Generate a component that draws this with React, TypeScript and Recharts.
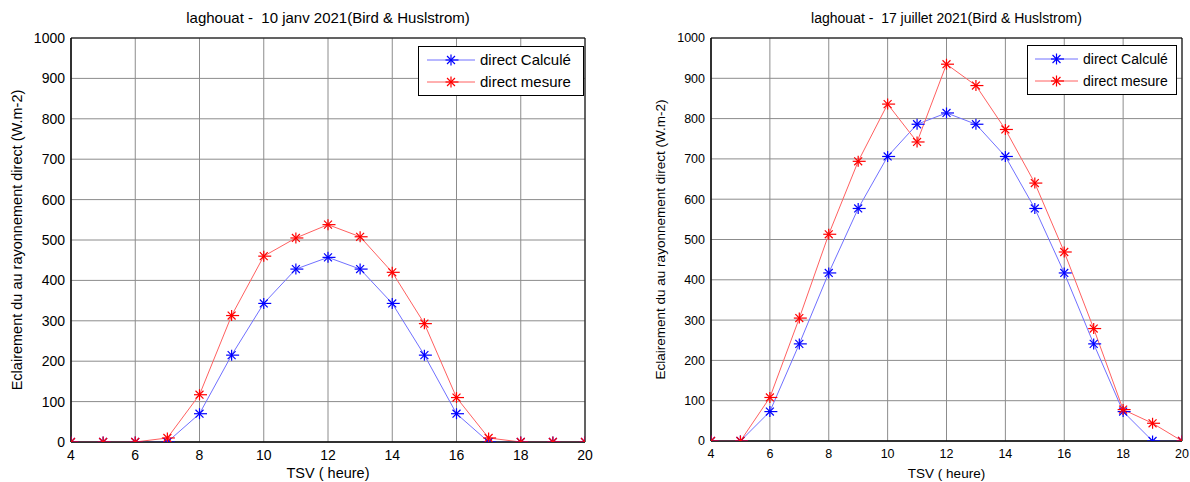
import React from 'react';
import { LineChart, Line, XAxis, YAxis, CartesianGrid, ReferenceArea, Legend } from 'recharts';

const hours = [4, 5, 6, 7, 8, 9, 10, 11, 12, 13, 14, 15, 16, 17, 18, 19, 20];
const janCalc = [0, 0, 0, 0, 70, 215, 343, 428, 457, 428, 343, 215, 70, 0, 0, 0, 0];
const janMes = [0, 0, 0, 10, 117, 313, 460, 505, 538, 508, 420, 293, 110, 10, 0, 0, 0];
const julCalc = [0, 0, 73, 241, 417, 577, 706, 786, 814, 786, 706, 577, 417, 241, 73, 0, 0];
const julMes = [0, 0, 108, 305, 513, 694, 836, 742, 935, 882, 773, 640, 469, 279, 78, 44, 0];
const xTicks = [4, 6, 8, 10, 12, 14, 16, 18, 20];
const yTicks = [0, 100, 200, 300, 400, 500, 600, 700, 800, 900, 1000];
const seriesNames = ['direct Calculé', 'direct mesure'];
const titles = ['laghouat -  10 janv 2021(Bird & Huslstrom)', 'laghouat -  17 juillet 2021(Bird & Huslstrom)'];
const xLabel = 'TSV ( heure)';
const yLabel = 'Eclairement du au rayonnement direct (W.m-2)';

const FONT = '"Liberation Sans", Arial, Helvetica, sans-serif';
const BLUE = '#0000ff';
const RED = '#ff0000';
const BLUE_LINE = '#7070ff';
const RED_LINE = '#ff6060';

function StarShape({ cx, cy, color, r = 5.5 }: { cx: number; cy: number; color: string; r?: number }) {
  if (cx == null || cy == null || isNaN(cx) || isNaN(cy)) return null;
  const d = r * 0.72;
  return (
    <g stroke={color} strokeWidth={1.2} fill="none">
      <line x1={cx - r} y1={cy} x2={cx + r + 2} y2={cy} />
      <line x1={cx} y1={cy - r} x2={cx} y2={cy + r} />
      <line x1={cx - d} y1={cy - d} x2={cx + d} y2={cy + d} />
      <line x1={cx - d} y1={cy + d} x2={cx + d} y2={cy - d} />
    </g>
  );
}

type PanelProps = {
  left: number;
  width: number;
  plotLeft: number;
  plotRight: number;
  plotTop: number;
  plotBottom: number;
  tickFs: number;
  titleFs: number;
  legendFs: number;
  labelFs: number;
  title: string;
  calc: number[];
  mes: number[];
  legend: { x: number; y: number; w: number; h: number; lineX1: number; lineX2: number; textX: number };
  yLabelX: number;
};

function Panel(p: PanelProps) {
  const data = hours.map((h, i) => ({ x: h, calc: p.calc[i], mes: p.mes[i] }));
  const H = 482;
  const lg = p.legend;
  const legendContent = () => (
    <svg width={lg.w} height={lg.h} style={{ display: 'block' }}>
      <rect x={0.5} y={0.5} width={lg.w - 1} height={lg.h - 1} fill="#fff" stroke="#000" strokeWidth={1} />
      <line x1={lg.lineX1} y1={14} x2={lg.lineX2} y2={14} stroke={BLUE_LINE} strokeWidth={1} />
      <StarShape cx={(lg.lineX1 + lg.lineX2) / 2} cy={14} color={BLUE} />
      <text x={lg.textX} y={14} dy="0.36em" fontSize={p.legendFs} fontFamily={FONT} fill="#000">{seriesNames[0]}</text>
      <line x1={lg.lineX1} y1={36} x2={lg.lineX2} y2={36} stroke={RED_LINE} strokeWidth={1} />
      <StarShape cx={(lg.lineX1 + lg.lineX2) / 2} cy={36} color={RED} />
      <text x={lg.textX} y={36} dy="0.36em" fontSize={p.legendFs} fontFamily={FONT} fill="#000">{seriesNames[1]}</text>
    </svg>
  );
  const plotCx = (p.plotLeft + p.plotRight) / 2;
  const plotCy = (p.plotTop + p.plotBottom) / 2;
  return (
    <div style={{ position: 'absolute', left: p.left, top: 0, width: p.width, height: H }}>
      <LineChart
        width={p.width}
        height={H}
        data={data}
        margin={{ top: p.plotTop, right: p.width - p.plotRight, bottom: 0, left: 0 }}
        style={{ fontFamily: FONT }}
      >
        <CartesianGrid stroke="#8c8c8c" strokeWidth={1} />
        <XAxis
          dataKey="x"
          type="number"
          domain={[4, 20]}
          ticks={xTicks}
          allowDataOverflow
          height={H - p.plotBottom}
          tickLine={false}
          tickSize={5}
          tickMargin={3}
          axisLine={{ stroke: '#000' }}
          tick={{ fill: '#000', fontSize: p.tickFs, fontFamily: FONT }}
          interval={0}
        />
        <YAxis
          type="number"
          domain={[0, 1000]}
          ticks={yTicks}
          allowDataOverflow
          width={p.plotLeft}
          tickLine={false}
          tickSize={5}
          tickMargin={1}
          axisLine={{ stroke: '#000' }}
          tick={{ fill: '#000', fontSize: p.tickFs, fontFamily: FONT }}
          interval={0}
        />
        <ReferenceArea x1={4} x2={20} y1={0} y2={1000} fill="none" fillOpacity={0} stroke="#000" strokeWidth={1} />
        <Line
          type="linear"
          dataKey="calc"
          stroke={BLUE_LINE}
          strokeWidth={1}
          isAnimationActive={false}
          dot={(d: any) => <StarShape key={'c' + d.index} cx={d.cx} cy={d.cy} color={BLUE} />}
          activeDot={false}
        />
        <Line
          type="linear"
          dataKey="mes"
          stroke={RED_LINE}
          strokeWidth={1}
          isAnimationActive={false}
          dot={(d: any) => <StarShape key={'m' + d.index} cx={d.cx} cy={d.cy} color={RED} />}
          activeDot={false}
        />
        <Legend
          layout="vertical"
          align="center"
          verticalAlign="middle"
          content={legendContent}
          wrapperStyle={{ position: 'absolute', left: lg.x, top: lg.y, width: lg.w, height: lg.h, margin: 0 }}
        />
      </LineChart>
      <svg width={p.width} height={H} style={{ position: 'absolute', left: 0, top: 0, pointerEvents: 'none' }}>
        <text x={plotCx} y={23} textAnchor="middle" fontSize={p.titleFs} fontFamily={FONT} fill="#000" style={{ whiteSpace: 'pre' }} xmlSpace="preserve">{p.title}</text>
        <text x={plotCx} y={478} textAnchor="middle" fontSize={p.labelFs} fontFamily={FONT} fill="#000" style={{ whiteSpace: 'pre' }} xmlSpace="preserve">{xLabel}</text>
        <text
          x={p.yLabelX}
          y={plotCy}
          textAnchor="middle"
          dy="0.36em"
          transform={`rotate(-90 ${p.yLabelX} ${plotCy})`}
          fontSize={p.labelFs}
          fontFamily={FONT}
          fill="#000"
        >{yLabel}</text>
      </svg>
    </div>
  );
}

export default function App() {
  return (
    <div style={{ position: 'absolute', left: 0, top: 0, width: 1190, height: 482, background: '#fff', overflow: 'hidden' }}>
      <Panel
        left={0}
        width={600}
        plotLeft={71}
        plotRight={585}
        plotTop={38}
        plotBottom={442}
        tickFs={14}
        titleFs={15}
        legendFs={15}
        labelFs={14.5}
        title={titles[0]}
        calc={janCalc}
        mes={janMes}
        legend={{ x: 418, y: 46, w: 166, h: 50, lineX1: 9, lineX2: 57, textX: 62 }}
        yLabelX={17}
      />
      <Panel
        left={620}
        width={570}
        plotLeft={91}
        plotRight={562}
        plotTop={38}
        plotBottom={441}
        tickFs={12.5}
        titleFs={14}
        legendFs={14}
        labelFs={13.5}
        title={titles[1]}
        calc={julCalc}
        mes={julMes}
        legend={{ x: 407, y: 45, w: 150, h: 50, lineX1: 8, lineX2: 51, textX: 56 }}
        yLabelX={40}
      />
    </div>
  );
}
